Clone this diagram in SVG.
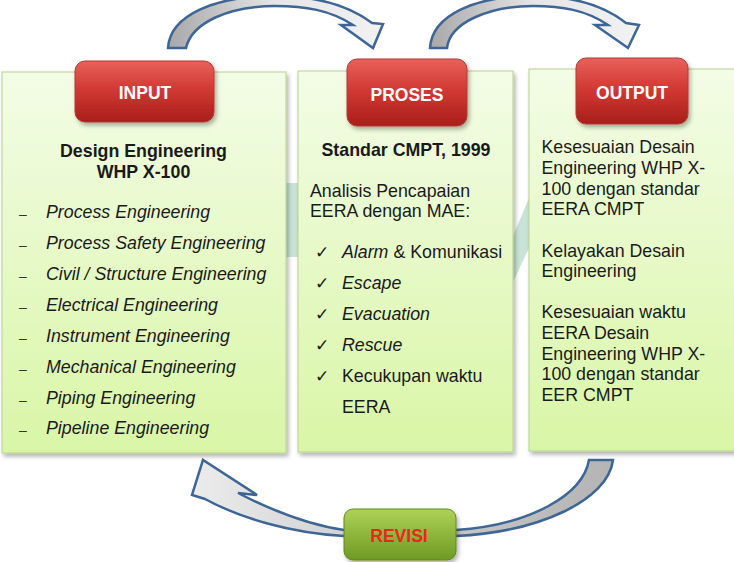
<svg xmlns="http://www.w3.org/2000/svg" width="734" height="562" viewBox="0 0 734 562">
<defs>
<linearGradient id="panelG" x1="0" y1="0" x2="0" y2="1">
<stop offset="0" stop-color="#f3fce6"/>
<stop offset="1" stop-color="#d9f6a6"/>
</linearGradient>
<linearGradient id="redG" x1="0" y1="0" x2="0" y2="1">
<stop offset="0" stop-color="#e8615b"/>
<stop offset="0.45" stop-color="#d23a34"/>
<stop offset="1" stop-color="#a91e1a"/>
</linearGradient>
<linearGradient id="greenG" x1="0" y1="0" x2="0" y2="1">
<stop offset="0" stop-color="#aed257"/>
<stop offset="1" stop-color="#6e9a22"/>
</linearGradient>
<linearGradient id="arrowTop" x1="0" y1="0" x2="1" y2="0">
<stop offset="0" stop-color="#a8a8a8"/>
<stop offset="0.5" stop-color="#e6e6e6"/>
<stop offset="1" stop-color="#f2f2f2"/>
</linearGradient>
<linearGradient id="arrowBot" x1="1" y1="0" x2="0" y2="0">
<stop offset="0" stop-color="#b4b4b4"/>
<stop offset="0.6" stop-color="#d0d0d0"/>
<stop offset="1" stop-color="#ececec"/>
</linearGradient>
<filter id="sh" x="-10%" y="-10%" width="130%" height="130%">
<feDropShadow dx="2" dy="3" stdDeviation="2" flood-color="#000" flood-opacity="0.3"/>
</filter>
</defs>
<style>
.panel{fill:url(#panelG);stroke:#b9cf94;stroke-width:1;filter:url(#sh)}
.btn{fill:url(#redG);stroke:#b23a34;stroke-width:1;filter:url(#sh)}
.btnt{font-family:"Liberation Sans",Arial,sans-serif;font-weight:bold;font-size:17.5px;fill:#ffffff;text-anchor:middle}
.arrow{stroke:#3d6596;stroke-width:2.5;stroke-linejoin:miter}
.t{font-family:"Liberation Sans",Arial,sans-serif;font-size:17.8px;fill:#1a1a1a}
.b{font-weight:bold}
.i{font-style:italic}
.ttl{font-family:"Liberation Sans",Arial,sans-serif;font-size:17.8px;font-weight:bold;fill:#1a1a1a;text-anchor:middle}
.dash{font-family:"Liberation Sans",Arial,sans-serif;font-size:14px;fill:#333}
.chk{font-family:"DejaVu Sans",sans-serif;font-size:17px;fill:#1a1a1a}
</style>

<g id="background">
<rect x="286" y="183" width="12" height="74" fill="#c9e4d6"/>
<polygon points="513,236 529,198 529,248 513,282" fill="#c9e4d6"/>
</g>

<g id="connectors">
<path class="arrow" fill="url(#arrowTop)" d="M168,48 C170,15 215,-4 275,-4 C320,-4 352,8 372,23 L383,24 L373,48 L341,25 L353,25 C330,10 305,6 275,6 C230,6 192,22 186,48 Z"/>
<path class="arrow" fill="url(#arrowTop)" d="M430,48 C432,15 475,-4 533,-4 C578,-4 607,8 626,23 L639,25 L628,48 L595,25 L608,25 C586,10 562,6 533,6 C490,6 450,22 447,48 Z"/>
<path class="arrow" fill="url(#arrowBot)" d="M589,460 L613,460 C608,500 540,532 456,536 L344,536 C290,533 240,518 205,499 L192,495 L203,460 L257,495 L238,493 C275,512 310,525 344,530 L456,530 C530,525 583,495 589,460 Z"/>
</g>

<g id="input">
<rect class="panel" x="2" y="72" width="284" height="381"/>
<rect class="btn" x="75" y="61" width="139" height="61" rx="10"/>
<text class="btnt" x="145" y="99">INPUT</text>
<text class="ttl" x="143.5" y="157">Design Engineering</text>
<text class="ttl" x="143.5" y="178">WHP X-100</text>
<g class="dash">
<text x="19" y="219">–</text><text x="19" y="250">–</text><text x="19" y="281">–</text><text x="19" y="312">–</text>
<text x="19" y="343">–</text><text x="19" y="374">–</text><text x="19" y="405">–</text><text x="19" y="435">–</text>
</g>
<g class="t i">
<text x="46" y="218">Process Engineering</text>
<text x="46" y="249">Process Safety Engineering</text>
<text x="46" y="280">Civil / Structure Engineering</text>
<text x="46" y="311">Electrical Engineering</text>
<text x="46" y="342">Instrument Engineering</text>
<text x="46" y="373">Mechanical Engineering</text>
<text x="46" y="404">Piping Engineering</text>
<text x="46" y="434">Pipeline Engineering</text>
</g>
</g>

<g id="proses">
<rect class="panel" x="298" y="71" width="215" height="381"/>
<rect class="btn" x="347" y="59" width="120" height="67" rx="10"/>
<text class="btnt" x="407" y="101">PROSES</text>
<text class="ttl" x="406" y="156">Standar CMPT, 1999</text>
<text class="t" x="310" y="197">Analisis Pencapaian</text>
<text class="t" x="310" y="217">EERA dengan MAE:</text>
<g class="chk">
<text x="315" y="258">✓</text><text x="315" y="289">✓</text><text x="315" y="320">✓</text><text x="315" y="351">✓</text><text x="315" y="382">✓</text>
</g>
<text class="t" x="342" y="258"><tspan class="i">Alarm</tspan> &amp; Komunikasi</text>
<text class="t i" x="342" y="289">Escape</text>
<text class="t i" x="342" y="320">Evacuation</text>
<text class="t i" x="342" y="351">Rescue</text>
<text class="t" x="342" y="382">Kecukupan waktu</text>
<text class="t" x="342" y="413">EERA</text>
</g>

<g id="output">
<rect class="panel" x="529" y="69" width="210" height="382"/>
<rect class="btn" x="576" y="58" width="112" height="66" rx="10"/>
<text class="btnt" x="632" y="99">OUTPUT</text>
<g class="t">
<text x="541.5" y="153">Kesesuaian Desain</text>
<text x="541.5" y="174">Engineering WHP X-</text>
<text x="541.5" y="195">100 dengan standar</text>
<text x="541.5" y="215">EERA CMPT</text>
<text x="541.5" y="257">Kelayakan Desain</text>
<text x="541.5" y="277">Engineering</text>
<text x="541.5" y="318">Kesesuaian waktu</text>
<text x="541.5" y="339">EERA Desain</text>
<text x="541.5" y="360">Engineering WHP X-</text>
<text x="541.5" y="380">100 dengan standar</text>
<text x="541.5" y="401">EER CMPT</text>
</g>
</g>

<g id="revisi">
<rect x="344" y="509" width="112" height="51" rx="9" fill="url(#greenG)" stroke="#5f8a1c" stroke-width="1" filter="url(#sh)"/>
<text x="399" y="541.5" font-family="Liberation Sans, Arial, sans-serif" font-weight="bold" font-size="17.5" fill="#e8281c" text-anchor="middle">REVISI</text>
</g>
</svg>
